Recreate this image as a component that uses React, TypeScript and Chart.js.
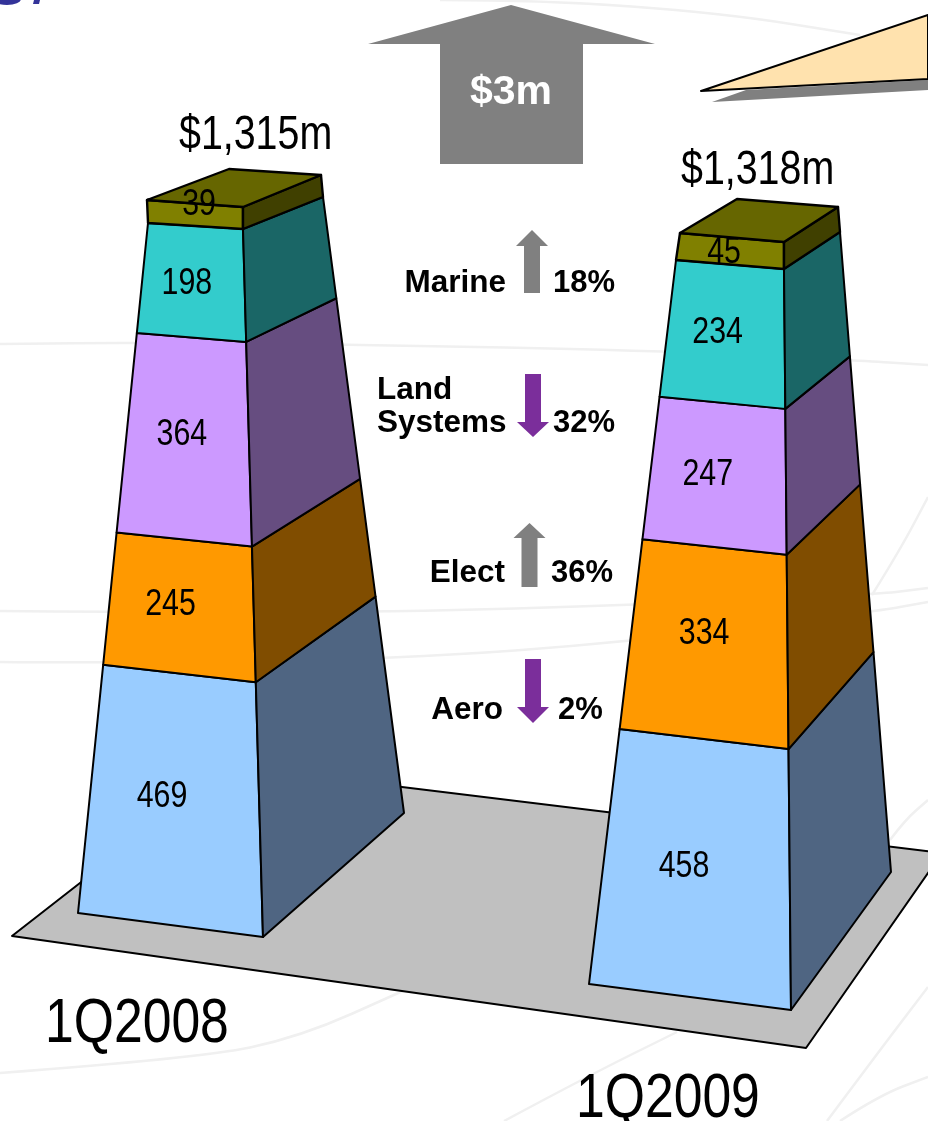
import React, { useEffect, useRef } from "react";
import { Chart, registerables } from "chart.js";

Chart.register(...registerables);

// ---------- data ----------
const categories = ["1Q2008", "1Q2009"];
const aero = [469, 458];
const elect = [245, 334];
const landSystems = [364, 247];
const marine = [198, 234];
const other = [39, 45];
const changeNames = ["Marine", "Land\nSystems", "Elect", "Aero"];
const changePercents = [18, -32, 36, -2];
const totalChange = "$3m";

// ---------- styles / layout ----------
const W = 928;
const H = 1121;
type P = [number, number];
const seriesStyle = [
  { label: "Aero", data: aero, front: "#99CCFF", side: "#4F6582" },
  { label: "Elect", data: elect, front: "#FF9900", side: "#804D00" },
  { label: "Land Systems", data: landSystems, front: "#CC99FF", side: "#664D80" },
  { label: "Marine", data: marine, front: "#33CCCC", side: "#1A6666" },
  { label: "Other", data: other, front: "#808000", side: "#404000" },
];
const TOP_COLOR = "#666600";
// Tower outline: each corner edge is [base, shoulder, top]; the value scale decides where a segment falls on it.
const towers = [
  {
    left: [[78, 913], [148, 223], [147, 200]] as P[],
    right: [[263, 937], [243, 229], [243, 207]] as P[],
    back: [[404, 813], [323, 197], [321, 175]] as P[],
    backLeft: [229, 169] as P,
    labelNudge: [[-2, -5], [-2, -4], [2, -6], [0, 0], [10, -12]] as P[],
    totalAt: [179, 149] as P,
    catAt: [45, 1042] as P,
  },
  {
    left: [[589, 984], [676, 260], [680, 233]] as P[],
    right: [[791, 1010], [784, 269], [784, 242]] as P[],
    back: [[891, 872], [840, 232], [838, 207]] as P[],
    backLeft: [737, 199] as P,
    labelNudge: [[-1, -3], [5, -11], [-2, -2], [-1, -3], [0, 0]] as P[],
    totalAt: [681, 184] as P,
    catAt: [576, 1117] as P,
  },
];
const PERSPECTIVE_FRONT = 0.033;
const PERSPECTIVE_BACK = 0.07;
const LABEL_U = 0.435;
const NARROW = 0.82;
const floorPoly: P[] = [[12, 936], [230, 766], [942, 853], [806, 1048]];
const bigArrow: P[] = [[368, 44], [511, 5], [655, 44], [583, 44], [583, 164], [440, 164], [440, 44]];
const calloutShadow: P[] = [[712, 102], [746, 90], [928, 80], [928, 90]];
const callout: P[] = [[701, 91], [928, 15], [928, 79]];
const changeLayout = [
  { cx: 532, top: 230, shoulder: 246, bottom: 293, half: 8, wing: 16, nameRight: 506, nameY: [292], pctX: 553, pctY: 292 },
  { cx: 533, top: 374, shoulder: 422, bottom: 437, half: 8, wing: 16, nameLeft: 377, nameY: [399, 432], pctX: 553, pctY: 432 },
  { cx: 529.5, top: 523, shoulder: 538, bottom: 587, half: 8, wing: 16, nameRight: 505, nameY: [582], pctX: 551, pctY: 582 },
  { cx: 533, top: 659, shoulder: 707, bottom: 723, half: 8, wing: 16, nameRight: 503, nameY: [719], pctX: 558, pctY: 719 },
];
const faintLines: P[][] = [
  [[0, 344], [180, 342], [370, 345], [640, 350], [850, 360], [928, 365]],
  [[0, 611], [100, 612], [400, 612], [630, 605], [872, 595], [928, 588]],
  [[0, 662], [100, 663], [400, 659], [630, 642], [872, 612], [928, 602]],
  [[872, 595], [900, 550], [928, 497]],
  [[0, 1073], [200, 1058], [300, 1037], [405, 990]],
  [[440, 0], [541, 0], [722, 13], [860, 35]],
  [[504, 1121], [590, 1075], [677, 1032]],
  [[827, 1121], [880, 1050], [928, 987]],
  [[840, 1121], [880, 1095], [928, 1077]],
  [[890, 840], [905, 820], [928, 800]],
];

const lerp = (a: P, b: P, t: number): P => [a[0] + (b[0] - a[0]) * t, a[1] + (b[1] - a[1]) * t];

function poly(ctx: CanvasRenderingContext2D, pts: P[], fill: string | null, stroke: string | null, lw = 2) {
  ctx.beginPath();
  pts.forEach((p, i) => (i ? ctx.lineTo(p[0], p[1]) : ctx.moveTo(p[0], p[1])));
  ctx.closePath();
  if (fill) {
    ctx.fillStyle = fill;
    ctx.fill();
  }
  if (stroke) {
    ctx.strokeStyle = stroke;
    ctx.lineWidth = lw;
    ctx.lineJoin = "round";
    ctx.stroke();
  }
}

function curve(ctx: CanvasRenderingContext2D, pts: P[]) {
  ctx.beginPath();
  ctx.moveTo(pts[0][0], pts[0][1]);
  for (let i = 1; i < pts.length - 1; i++) {
    const mx = (pts[i][0] + pts[i + 1][0]) / 2;
    const my = (pts[i][1] + pts[i + 1][1]) / 2;
    ctx.quadraticCurveTo(pts[i][0], pts[i][1], mx, my);
  }
  const last = pts[pts.length - 1];
  ctx.lineTo(last[0], last[1]);
  ctx.stroke();
}

// Arial-Narrow look: Liberation Sans squeezed horizontally.
function narrowText(ctx: CanvasRenderingContext2D, text: string, x: number, y: number, size: number, align: CanvasTextAlign) {
  ctx.save();
  ctx.translate(x, y);
  ctx.scale(NARROW, 1);
  ctx.font = `${size}px "Liberation Sans"`;
  ctx.textAlign = align;
  ctx.fillStyle = "#000000";
  ctx.fillText(text, 0, 0);
  ctx.restore();
}

const towerPlugin = {
  id: "towers",
  beforeDatasetsDraw(chart: any) {
    const ctx: CanvasRenderingContext2D = chart.ctx;
    ctx.save();
    ctx.fillStyle = "#ffffff";
    ctx.fillRect(0, 0, W, H);
    ctx.strokeStyle = "#f0f0f0";
    ctx.lineWidth = 2.5;
    faintLines.forEach((l) => curve(ctx, l));
    // clipped title fragment at the page's top edge
    ctx.fillStyle = "#333399";
    ctx.beginPath();
    ctx.ellipse(7, -1, 14, 6, 0, 0, Math.PI * 2);
    ctx.fill();
    ctx.beginPath();
    ctx.moveTo(34, 0);
    ctx.lineTo(40, 0);
    ctx.lineTo(39, 4);
    ctx.lineTo(33, 4);
    ctx.fill();
    poly(ctx, floorPoly, "#C0C0C0", "#000000", 2);
    ctx.restore();
  },
  afterDatasetsDraw(chart: any) {
    const ctx: CanvasRenderingContext2D = chart.ctx;
    const y = chart.scales.y;
    ctx.save();

    // decorations
    poly(ctx, calloutShadow, "#808080", null);
    poly(ctx, callout, "#FFE2AE", "#000000", 2);
    poly(ctx, bigArrow, "#808080", null);
    ctx.textBaseline = "alphabetic";
    ctx.textAlign = "center";
    ctx.fillStyle = "#ffffff";
    ctx.font = 'bold 41px "Liberation Sans"';
    ctx.fillText(totalChange, 511, 104);

    // towers, built from the stacked bar elements
    categories.forEach((cat, c) => {
      const t = towers[c];
      const metas = seriesStyle.map((_, s) => chart.getDatasetMeta(s).data[c]);
      const shoulderV = y.getValueForPixel(metas[metas.length - 2].y);
      const topV = y.getValueForPixel(metas[metas.length - 1].y);
      const at = (edge: P[], v: number): P => {
        if (v <= shoulderV) {
          const f = v / shoulderV;
          const k = edge === t.back ? PERSPECTIVE_BACK : PERSPECTIVE_FRONT;
          return lerp(edge[0], edge[1], f - k * f * (1 - f));
        }
        return lerp(edge[1], edge[2], (v - shoulderV) / (topV - shoulderV));
      };
      seriesStyle.forEach((st, s) => {
        const el = metas[s];
        const v0 = y.getValueForPixel(el.base);
        const v1 = y.getValueForPixel(el.y);
        const isTop = s === seriesStyle.length - 1;
        const lw = isTop ? 2.4 : 2;
        poly(ctx, [at(t.left, v0), at(t.right, v0), at(t.right, v1), at(t.left, v1)], st.front, "#000000", lw);
        poly(ctx, [at(t.right, v0), at(t.back, v0), at(t.back, v1), at(t.right, v1)], st.side, "#000000", lw);
      });
      poly(ctx, [t.left[2], t.backLeft, t.back[2], t.right[2]], TOP_COLOR, "#000000", 2.4);

      // value labels on the front face
      seriesStyle.forEach((st, s) => {
        const el = metas[s];
        const mid = (y.getValueForPixel(el.base) + y.getValueForPixel(el.y)) / 2;
        const p = lerp(at(t.left, mid), at(t.right, mid), LABEL_U);
        const n = t.labelNudge[s];
        narrowText(ctx, String(st.data[c]), p[0] + n[0], p[1] + 13 + n[1], 37, "center");
      });

      narrowText(ctx, `$${Math.round(topV).toLocaleString("en-US")}m`, t.totalAt[0], t.totalAt[1], 48, "left");
      narrowText(ctx, cat, t.catAt[0], t.catAt[1], 63, "left");
    });

    // change annotations
    changeNames.forEach((name, i) => {
      const l: any = changeLayout[i];
      const pct = changePercents[i];
      const up = pct > 0;
      const col = up ? "#808080" : "#7B2E9B";
      const yEnd = up ? l.bottom : l.top;
      const yTip = up ? l.top : l.bottom;
      poly(
        ctx,
        [
          [l.cx, yTip],
          [l.cx + l.wing, l.shoulder],
          [l.cx + l.half, l.shoulder],
          [l.cx + l.half, yEnd],
          [l.cx - l.half, yEnd],
          [l.cx - l.half, l.shoulder],
          [l.cx - l.wing, l.shoulder],
        ],
        col,
        null
      );
      ctx.fillStyle = "#000000";
      ctx.font = 'bold 31.5px "Liberation Sans"';
      name.split("\n").forEach((line, j) => {
        if (l.nameLeft !== undefined) {
          ctx.textAlign = "left";
          ctx.fillText(line, l.nameLeft, l.nameY[j]);
        } else {
          ctx.textAlign = "right";
          ctx.fillText(line, l.nameRight, l.nameY[j]);
        }
      });
      ctx.textAlign = "left";
      ctx.font = 'bold 31px "Liberation Sans"';
      ctx.fillText(`${Math.abs(pct)}%`, l.pctX, l.pctY);
    });
    ctx.restore();
  },
};

export default function App() {
  const ref = useRef<HTMLCanvasElement>(null);
  useEffect(() => {
    document.body.style.margin = "0";
    const chart = new Chart(ref.current!, {
      type: "bar",
      data: {
        labels: categories,
        datasets: seriesStyle.map((s) => ({
          label: s.label,
          data: s.data,
          backgroundColor: "rgba(0,0,0,0)",
          borderWidth: 0,
        })),
      },
      options: {
        responsive: false,
        animation: false,
        layout: { padding: 0 },
        plugins: { legend: { display: false }, tooltip: { enabled: false }, title: { display: false } },
        scales: {
          x: { stacked: true, display: false },
          y: { stacked: true, display: false, min: 0, max: 1400 },
        },
      },
      plugins: [towerPlugin],
    } as any);
    return () => chart.destroy();
  }, []);
  return (
    <div style={{ position: "absolute", left: 0, top: 0, width: W, height: H }}>
      <canvas ref={ref} width={W} height={H} style={{ display: "block" }} />
    </div>
  );
}
